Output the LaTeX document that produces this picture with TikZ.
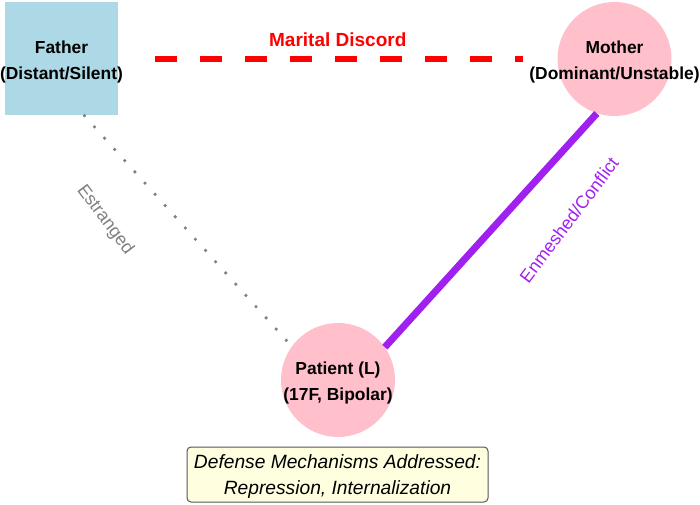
\documentclass[tikz,border=0pt]{standalone}
\usepackage{fontspec}
\setmainfont{Liberation Sans}
\definecolor{fatherblue}{HTML}{ADD8E6}
\definecolor{personpink}{HTML}{FFC0CB}
\definecolor{conflictpurple}{HTML}{A020F0}
\definecolor{noteyellow}{HTML}{FFFFE0}
\definecolor{notegray}{HTML}{555555}
\newcommand{\overhang}[1]{\makebox[0pt]{#1}}
\newcommand{\toprow}[2]{\rule{0pt}{#1}#2}
\tikzset{
	person/.style={circle, fill=personpink, minimum size=114pt, inner sep=0pt, align=center,
		font=\fontsize{17.4}{26}\selectfont\bfseries},
	discord/.style={red, line width=6pt, dash pattern=on 22pt off 23pt},
	estranged/.style={gray, line width=3.6pt, dash pattern=on 0pt off 15.1pt, line cap=round},
	enmeshed/.style={conflictpurple, line width=7pt}
}
\begin{document}
\begin{tikzpicture}[x=1pt, y=1pt]
		\useasboundingbox (0,0) rectangle (700,504);
		% family members
		\node[rectangle, fill=fatherblue, minimum size=113pt, inner sep=0pt, align=center,
			font=\fontsize{17.4}{26}\selectfont\bfseries] (father) at (61.5,445)
			{\toprow{18.5pt}{\overhang{Father}}\\\overhang{(Distant/Silent)}};
		\node[person] (mother) at (614.5,445)
			{\toprow{18.5pt}{\overhang{Mother}}\\\overhang{(Dominant/Unstable)}};
		\node[person] (patient) at (338,124)
			{\toprow{18.5pt}{\overhang{Patient (L)}}\\\overhang{(17F, Bipolar)}};
		% relations
		\draw[discord, shorten <=37pt, shorten >=34pt] (father) -- (mother)
			node[midway, above=9pt, inner sep=0pt, red, font=\fontsize{19}{23}\selectfont\bfseries] (discordlabel) {Marital Discord};
		\draw[estranged] (father.-68.5) -- (patient.144);
		\draw[enmeshed] (mother.252) -- (patient.35);
		\node[gray, rotate=-53, font=\fontsize{18}{22}\selectfont] (estrangedlabel) at (105,284) {Estranged};
		\node[conflictpurple, rotate=53, font=\fontsize{18}{22}\selectfont] (enmeshedlabel) at (569,284) {Enmeshed/Conflict};
		% note
		\node[draw=notegray, line width=1pt, fill=noteyellow, rounded corners=4pt, minimum width=301pt,
			minimum height=55pt, inner sep=0pt, align=center,
			font=\fontsize{19.2}{26}\selectfont\itshape] (defense) at (337.5,29.5)
			{\toprow{18pt}{Defense Mechanisms Addressed:}\\Repression, Internalization};
	\end{tikzpicture}
\end{document}
